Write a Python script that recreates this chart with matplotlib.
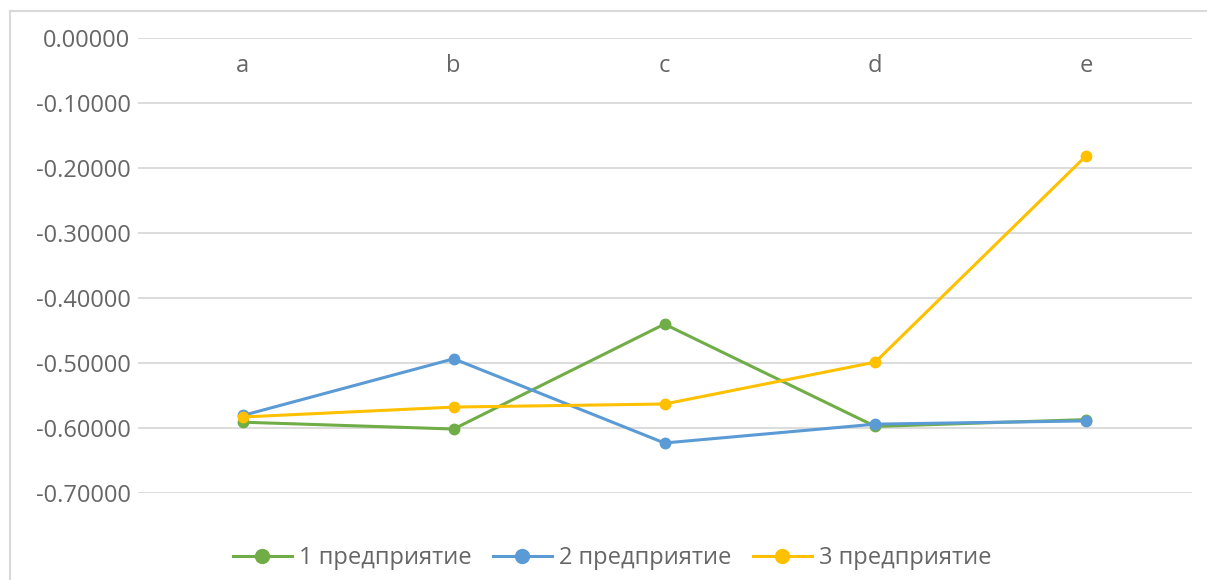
import matplotlib.pyplot as plt
from matplotlib.lines import Line2D
import numpy as np

categories = ["a", "b", "c", "d", "e"]
series_names = ["1 предприятие", "2 предприятие", "3 предприятие"]
firm1 = [-0.591, -0.6015, -0.440, -0.5975, -0.587]
firm2 = [-0.5806, -0.4934, -0.623, -0.594, -0.589]
firm3 = [-0.583, -0.5677, -0.563, -0.4985, -0.181]
y_ticks = [0.0, -0.1, -0.2, -0.3, -0.4, -0.5, -0.6, -0.7]

colors = ["#70AD47", "#5B9BD5", "#FFC000"]
text_color = "#666666"
grid_color = "#D9D9D9"
fs = 17

plt.rcParams["font.family"] = ["Open Sans", "DejaVu Sans"]

W, H = 1207, 580
fig = plt.figure(figsize=(W / 100, H / 100), dpi=100)
ax = fig.add_axes([137.5 / W, (H - 493) / H, 1054 / W, (493 - 38.3) / H])

x = np.arange(len(categories))
for vals, name, c in zip([firm1, firm2, firm3], series_names, colors):
    ax.plot(x, vals, color=c, lw=2.2, marker="o", ms=7.5, label=name,
            solid_capstyle="round")

ax.set_xlim(-0.5, len(categories) - 0.5)
ax.set_ylim(-0.7, 0.0)
ax.set_yticks(y_ticks)
ax.set_yticklabels([f"{v:.5f}" for v in y_ticks])
ax.tick_params(axis="y", length=0, pad=5, labelsize=fs, labelcolor=text_color)
ax.set_xticks([])
ax.grid(axis="y", color=grid_color, lw=1.3)
ax.set_axisbelow(True)
for s in ax.spines.values():
    s.set_visible(False)

# category labels sit under the zero line (axis crosses at 0)
for i, cat in enumerate(categories):
    ax.text(i, 1 - 28 / 454.7, cat, transform=ax.get_xaxis_transform(),
            ha="center", va="center", fontsize=fs, color=text_color)

handles = [Line2D([], [], color=c, lw=2.2, marker="o", ms=10) for c in colors]
fig.legend(handles, series_names, loc="center", bbox_to_anchor=(612 / W, 1 - 558 / H),
           ncol=3, frameon=False, fontsize=fs, labelcolor=text_color,
           handlelength=2.5, handletextpad=0.3, columnspacing=0.9)

# chart area border (top and left visible)
fig.add_artist(Line2D([9.5 / W, 9.5 / W], [0, 1 - 10.5 / H], color=grid_color, lw=1.5,
                      transform=fig.transFigure))
fig.add_artist(Line2D([9.5 / W, 1], [1 - 10.5 / H, 1 - 10.5 / H], color=grid_color, lw=1.5,
                      transform=fig.transFigure))

fig.savefig("out.png", dpi=100)
